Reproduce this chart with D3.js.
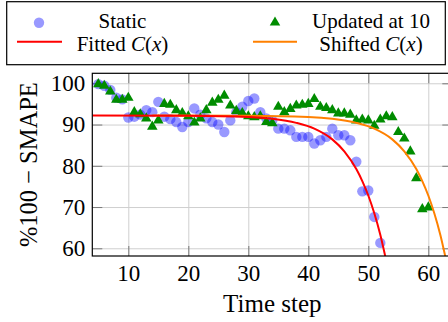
<!DOCTYPE html>
<html>
<head>
<meta charset="utf-8">
<script src="https://cdn.jsdelivr.net/npm/d3@7"></script>
<style>
  body { margin: 0; background: #fff; }
  svg { display: block; }
</style>
</head>
<body>
<div id="chart"></div>
<script>
const staticSteps = [5,6,7,8,9,10,11,12,13,14,15,16,17,18,19,20,21,22,23,24,25,26,27,28,
  29,30,31,32,33,34,35,36,37,38,39,40,41,42,43,44,45,46,47,48,49,50,51,52];
const staticValues = [99.8,99.4,98.4,96.5,96.1,91.7,91.9,92.4,93.5,93.0,95.5,91.9,91.3,90.6,
  89.4,90.6,93.9,92.4,91.5,90.6,90.0,88.2,91.0,93.0,94.3,95.7,96.3,93.0,91.5,91.0,89.0,89.0,
  88.6,87.0,87.0,87.0,85.4,86.2,87.0,89.0,87.4,87.4,86.2,81.0,73.8,74.0,67.6,61.3];

const updatedSteps = [5,6,7,8,9,10,11,12,13,14,15,16,17,18,19,20,21,22,23,24,25,26,27,28,
  29,30,31,32,33,34,35,36,37,38,39,40,41,42,43,44,45,46,47,48,49,50,51,52,53,54,55,56,57,
  58,59,60];
const updatedValues = [99.8,99.4,98.0,96.0,96.0,96.5,93.0,92.5,91.5,89.5,91.0,95.0,94.8,93.5,
  92.8,92.0,90.5,91.5,93.5,95.3,96.0,97.0,94.6,93.3,92.8,92.0,91.8,92.0,90.6,90.3,94.3,93.0,
  93.8,94.6,94.8,95.0,96.2,94.3,94.0,93.5,92.7,92.7,92.4,91.0,91.2,91.0,89.7,91.2,92.0,91.8,
  88.2,86.6,83.5,77.0,69.5,69.9];

const fittedX = [4,20,30,34,38,41,44,46,48,49,50,51,52,53];
const fittedY = [92.2,92.15,91.85,91.4,90.4,89.0,86.4,83.5,79.2,76.3,72.8,68.5,63.3,56.9];

const shiftedX = [14,30,40,44,48,51,54,56,58,59,60,61,62,63];
const shiftedY = [92.2,92.15,91.85,91.4,90.4,89.0,86.4,83.5,79.2,76.3,72.8,68.5,63.3,56.9];

const xTicks = [10,20,30,40,50,60];
const yTicks = [60,70,80,90,100];

const font = "Liberation Serif, DejaVu Serif, serif";

const W = 448, H = 322;
const margin = {top: 73.3, left: 92.3};
const width = 360;
const height = 182.7;

const svg0 = d3.select("#chart").append("svg")
  .attr("width", W)
  .attr("height", H);

const svg = svg0.append("g")
  .attr("transform", "translate(" + margin.left + "," + margin.top + ")");

const x = d3.scaleLinear().domain([4, 64]).range([0, width]);
const y = d3.scaleLinear().domain([58.13, 102.42]).range([height, 0]);

svg.append("defs").append("clipPath").attr("id", "clip")
  .append("rect").attr("width", width).attr("height", height);

// grid
svg.append("g")
  .attr("transform", "translate(0," + height + ")")
  .call(d3.axisBottom(x).tickValues(xTicks).tickSize(-height).tickFormat(""))
  .call(g => g.select(".domain").remove())
  .call(g => g.selectAll("line").attr("stroke", "#cfcfcf"));
svg.append("g")
  .call(d3.axisLeft(y).tickValues(yTicks).tickSize(-width).tickFormat(""))
  .call(g => g.select(".domain").remove())
  .call(g => g.selectAll("line").attr("stroke", "#cfcfcf"));

// axes, ticks inside
function styleAxis(g) {
  g.attr("font-family", font).attr("font-size", 23);
  g.select(".domain").remove();
  g.selectAll("line").attr("stroke", "#7a7a7a");
  g.selectAll("text").attr("fill", "#000");
}
svg.append("g")
  .attr("transform", "translate(0," + height + ")")
  .call(d3.axisBottom(x).tickValues(xTicks).tickSizeInner(-10).tickSizeOuter(0).tickPadding(9))
  .call(styleAxis);
svg.append("g")
  .call(d3.axisTop(x).tickValues(xTicks).tickSizeInner(-10).tickSizeOuter(0).tickFormat(""))
  .call(styleAxis);
svg.append("g")
  .call(d3.axisLeft(y).tickValues(yTicks).tickSizeInner(-10).tickSizeOuter(0).tickPadding(7))
  .call(styleAxis);
svg.append("g")
  .attr("transform", "translate(" + width + ",0)")
  .call(d3.axisRight(y).tickValues(yTicks).tickSizeInner(-10).tickSizeOuter(0).tickFormat(""))
  .call(styleAxis);

// data
const staticData = staticSteps.map((t, i) => ({t: t, v: staticValues[i]}));
const updatedData = updatedSteps.map((t, i) => ({t: t, v: updatedValues[i]}));
const fittedData = fittedX.map((t, i) => ({t: t, v: fittedY[i]}));
const shiftedData = shiftedX.map((t, i) => ({t: t, v: shiftedY[i]}));

svg.append("g").selectAll("circle").data(staticData)
  .enter().append("circle")
    .attr("cx", d => x(d.t))
    .attr("cy", d => y(d.v))
    .attr("r", 5.2)
    .attr("fill", "#0000ff")
    .attr("fill-opacity", 0.4);

const tri = d3.symbol().type(d3.symbolTriangle).size(48);
svg.append("g").selectAll("path").data(updatedData)
  .enter().append("path")
    .attr("d", tri)
    .attr("transform", d => "translate(" + x(d.t) + "," + y(d.v) + ")")
    .attr("fill", "#008c00");

const line = d3.line()
  .x(d => x(d.t))
  .y(d => y(d.v))
  .curve(d3.curveMonotoneX);

svg.append("path").datum(shiftedData)
  .attr("clip-path", "url(#clip)")
  .attr("d", line)
  .attr("fill", "none")
  .attr("stroke", "#ff8000")
  .attr("stroke-width", 2);

svg.append("path").datum(fittedData)
  .attr("clip-path", "url(#clip)")
  .attr("d", line)
  .attr("fill", "none")
  .attr("stroke", "#ff0000")
  .attr("stroke-width", 2);

// frame
svg.append("rect")
  .attr("width", width)
  .attr("height", height)
  .attr("fill", "none")
  .attr("stroke", "#000")
  .attr("stroke-width", 1.2);

// axis labels
svg0.append("text")
  .attr("x", margin.left + width / 2)
  .attr("y", 311.5)
  .attr("text-anchor", "middle")
  .attr("font-family", font)
  .attr("font-size", 25)
  .text("Time step");

svg0.append("text")
  .attr("transform", "translate(36.5," + (margin.top + height / 2) + ") rotate(-90)")
  .attr("text-anchor", "middle")
  .attr("font-family", font)
  .attr("font-size", 24.5)
  .text("%100 \u2212 SMAPE");

// legend
const legend = svg0.append("g");
legend.append("rect")
  .attr("x", 6.7).attr("y", 1.7)
  .attr("width", 438.6).attr("height", 63)
  .attr("fill", "#fff")
  .attr("stroke", "#000")
  .attr("stroke-width", 1.2);

legend.append("circle")
  .attr("cx", 39).attr("cy", 22.7).attr("r", 5.2)
  .attr("fill", "#0000ff").attr("fill-opacity", 0.4);
legend.append("path")
  .attr("d", tri)
  .attr("transform", "translate(275,22.5)")
  .attr("fill", "#008c00");
legend.append("line")
  .attr("x1", 17).attr("x2", 62).attr("y1", 41.7).attr("y2", 41.7)
  .attr("stroke", "#ff0000").attr("stroke-width", 2);
legend.append("line")
  .attr("x1", 253).attr("x2", 297).attr("y1", 41.7).attr("y2", 41.7)
  .attr("stroke", "#ff8000").attr("stroke-width", 2);

function legendText(cx, cy, parts) {
  const t = legend.append("text")
    .attr("x", cx).attr("y", cy)
    .attr("text-anchor", "middle")
    .attr("font-family", font)
    .attr("font-size", 21);
  parts.forEach(p => {
    t.append("tspan").attr("font-style", p[1] ? "italic" : "normal").text(p[0]);
  });
}
legendText(122.5, 27.5, [["Static", false]]);
legendText(371, 27.5, [["Updated at 10", false]]);
legendText(122.5, 50.8, [["Fitted ", false], ["C", true], ["(", false], ["x", true], [")", false]]);
legendText(371, 50.8, [["Shifted ", false], ["C", true], ["(", false], ["x", true], [")", false]]);
</script>
</body>
</html>
